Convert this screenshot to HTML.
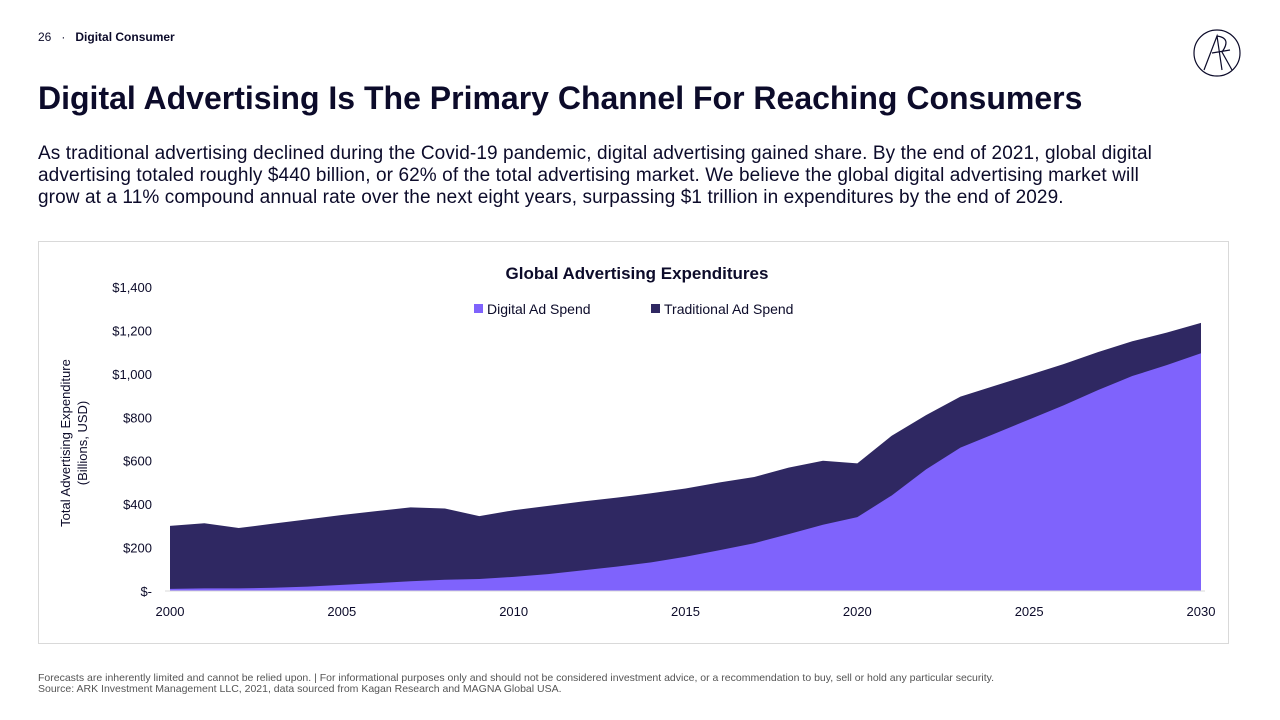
<!DOCTYPE html>
<html><head><meta charset="utf-8">
<style>
body{margin:0;width:1280px;height:720px;background:#fff;font-family:"Liberation Sans",sans-serif;color:#0c0b2a;position:relative;overflow:hidden}
.abs{position:absolute}
</style></head><body>
<div class="abs" style="left:38px;top:30px;font-size:12px"><span>26</span><span style="margin:0 10px">·</span><b>Digital Consumer</b></div>
<svg class="abs" style="left:1192px;top:28px" width="50" height="50"><circle cx="25" cy="25" r="23" fill="none" stroke="#0c0b2a" stroke-width="1.2"/><path d="M12 42 L25 8 L30 42 M20 25 L38 22 M25 8 Q40 10 30 24 L40 42" fill="none" stroke="#0c0b2a" stroke-width="1.2"/></svg>
<h1 class="abs" style="left:38px;top:80px;margin:0;font-size:32px;font-weight:bold;letter-spacing:0px">Digital Advertising Is The Primary Channel For Reaching Consumers</h1>
<p class="abs" style="left:38px;top:143px;margin:0;width:1122px;font-size:19px;line-height:22px;letter-spacing:0.1px">As traditional advertising declined during the Covid-19 pandemic, digital advertising gained share. By the end of 2021, global digital advertising totaled roughly $440 billion, or 62% of the total advertising market. We believe the global digital advertising market will grow at a 11% compound annual rate over the next eight years, surpassing $1 trillion in expenditures by the end of 2029.</p>
<div class="abs" style="left:38px;top:241px;width:1191px;height:403px;border:1px solid #d9d9d9;box-sizing:border-box"></div>
<svg id="chart" class="abs" style="left:0;top:0" width="1280" height="720"></svg>
<div class="abs" style="left:38px;top:673px;font-size:10.5px;color:#555;line-height:11px">Forecasts are inherently limited and cannot be relied upon. | For informational purposes only and should not be considered investment advice, or a recommendation to buy, sell or hold any particular security.<br>Source: ARK Investment Management LLC, 2021, data sourced from Kagan Research and MAGNA Global USA.</div>
<script>
const years=[2000,2001,2002,2003,2004,2005,2006,2007,2008,2009,2010,2011,2012,2013,2014,2015,2016,2017,2018,2019,2020,2021,2022,2023,2024,2025,2026,2027,2028,2029,2030];
const totalSpend=[300,312,290,310,330,350,368,385,380,345,372,392,412,430,450,472,500,525,568,600,588,715,810,895,945,995,1045,1100,1150,1190,1235];
const digitalSpend=[10,12,12,15,20,28,36,45,52,55,65,78,95,112,132,158,188,220,262,305,340,440,560,660,725,790,855,925,990,1040,1095];
const yTicks=[0,200,400,600,800,1000,1200,1400];
const yTickLabels=["$-","$200","$400","$600","$800","$1,000","$1,200","$1,400"];
const xTicks=[2000,2005,2010,2015,2020,2025,2030];
const svg=document.getElementById('chart');const NS='http://www.w3.org/2000/svg';
const x=v=>170+(v-2000)*(1201-170)/30;
const y=v=>591-v*(591-287)/1400;
function mk(t,a,txt){const e=document.createElementNS(NS,t);for(const k in a)e.setAttribute(k,a[k]);if(txt!==undefined)e.textContent=txt;svg.appendChild(e);return e;}
let d='M'+x(years[0])+','+y(0);years.forEach((yr,i)=>d+=' L'+x(yr)+','+y(totalSpend[i]));d+=' L'+x(years[years.length-1])+','+y(0)+' Z';
let a1=mk('path',{d:d,fill:'#2f2862'});


let d2='M'+x(years[0])+','+y(0);years.forEach((yr,i)=>d2+=' L'+x(yr)+','+y(digitalSpend[i]));d2+=' L'+x(years[years.length-1])+','+y(0)+' Z';
let a2=mk('path',{d:d2,fill:'#7f63fc'});


let ax=mk('line',{x1:165,x2:1205,y1:y(0),y2:y(0),stroke:'#d9d9d9'});


yTicks.forEach((v,i)=>{const t=mk('text',{x:152,y:y(v)+5,'text-anchor':'end','font-size':13,fill:'#0c0b2a','font-family':'Liberation Sans'},yTickLabels[i]);

});
xTicks.forEach(v=>{const t=mk('text',{x:x(v),y:616,'text-anchor':'middle','font-size':13,fill:'#0c0b2a','font-family':'Liberation Sans'},v);

});
const tt=mk('text',{x:637,y:279,'text-anchor':'middle','font-size':17,'font-weight':'bold',fill:'#0c0b2a','font-family':'Liberation Sans'},'Global Advertising Expenditures');


const yt=mk('text',{transform:'translate(70,443) rotate(-90)','text-anchor':'middle','font-size':13,fill:'#0c0b2a','font-family':'Liberation Sans'});


const s1=document.createElementNS(NS,'tspan');s1.setAttribute('x',0);s1.setAttribute('dy',0);s1.textContent='Total Advertising Expenditure';yt.appendChild(s1);
const s2=document.createElementNS(NS,'tspan');s2.setAttribute('x',0);s2.setAttribute('dy',17);s2.textContent='(Billions, USD)';yt.appendChild(s2);
[['Digital Ad Spend','#7f63fc',474],['Traditional Ad Spend','#2f2862',651]].forEach(([n,c,lx])=>{
const r=mk('rect',{x:lx,y:304,width:9,height:9,fill:c});


const t=mk('text',{x:lx+13,y:314,'font-size':14,fill:'#0c0b2a','font-family':'Liberation Sans'},n);

});
</script>
</body></html>
